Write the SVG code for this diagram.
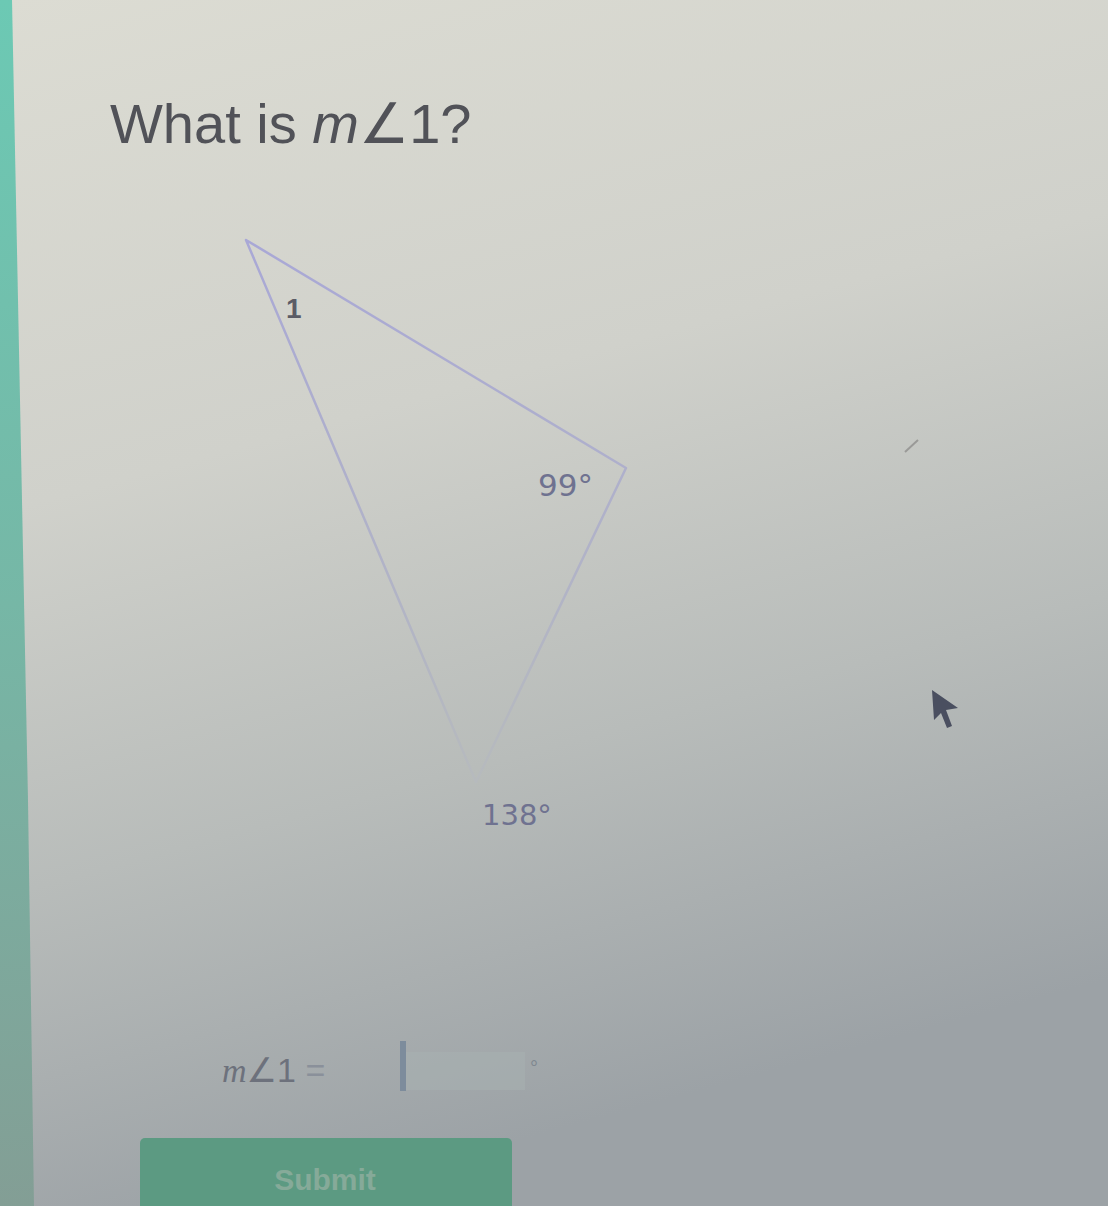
<svg xmlns="http://www.w3.org/2000/svg" width="1108" height="1206" viewBox="0 0 1108 1206">
<defs>
<linearGradient id="bg" x1="0" y1="0" x2="0.25" y2="1">
<stop offset="0" stop-color="#dcdcd3"/>
<stop offset="0.4" stop-color="#d0d1cb"/>
<stop offset="0.7" stop-color="#b8bcba"/>
<stop offset="1" stop-color="#9ca2a6"/>
</linearGradient>
<linearGradient id="strip" x1="0" y1="0" x2="0" y2="1">
<stop offset="0" stop-color="#6cc9b4"/>
<stop offset="0.5" stop-color="#76b7a6"/>
<stop offset="1" stop-color="#839e95"/>
</linearGradient>
<linearGradient id="tri" x1="0" y1="0" x2="0" y2="1">
<stop offset="0" stop-color="#a9a8d6"/>
<stop offset="1" stop-color="#b6babd"/>
</linearGradient>
<style>
.t{font-family:"Liberation Sans","DejaVu Sans",sans-serif}
.lbl{font-family:"DejaVu Sans","Liberation Sans",sans-serif;fill:#6f7290}
</style>
</defs>
<rect width="1108" height="1206" fill="url(#bg)"/>
<polygon points="0,0 12,0 20,400 28,800 34,1206 0,1206" fill="url(#strip)"/>
<g id="title">
<text class="t" x="110" y="143" font-size="56" fill="#515258">What is <tspan font-style="italic">m</tspan>∠1?</text>
</g>
<g id="connectors">
<polygon points="246,240 626,468 476,782" fill="none" stroke="url(#tri)" stroke-width="2.5" stroke-linejoin="round"/>
</g>
<g id="label-1"><text class="t" x="286" y="318" font-size="28" font-weight="bold" fill="#5b5c66">1</text></g>
<g id="label-99"><text class="lbl" x="538" y="496" font-size="31">99°</text></g>
<g id="label-138"><text class="lbl" x="482" y="825" font-size="29">138°</text></g>
<g id="answer">
<text class="t" x="222" y="1082" font-size="34" fill="#6d717c"><tspan font-style="italic" font-family="Liberation Serif,serif">m</tspan>∠1 <tspan fill="#8a909a">=</tspan></text>
<rect x="405" y="1052" width="120" height="38" fill="#a7b2b2" opacity="0.5"/>
<rect x="400" y="1041" width="6" height="50" fill="#7d8c9c"/>
<text class="t" x="530" y="1075" font-size="20" fill="#7f8790">°</text>
</g>
<g id="submit">
<rect x="140" y="1138" width="372" height="80" rx="5" fill="#5c9a82"/>
<text class="t" x="325" y="1190" font-size="30" font-weight="bold" fill="#86aa99" text-anchor="middle">Submit</text>
</g>
<path d="M905,452 L918,440" stroke="#9a9a98" stroke-width="2"/>
<polygon points="932,690 958,708 946,710 952,726 947,728 941,713 934,720" fill="#4a4f60"/>
</svg>
